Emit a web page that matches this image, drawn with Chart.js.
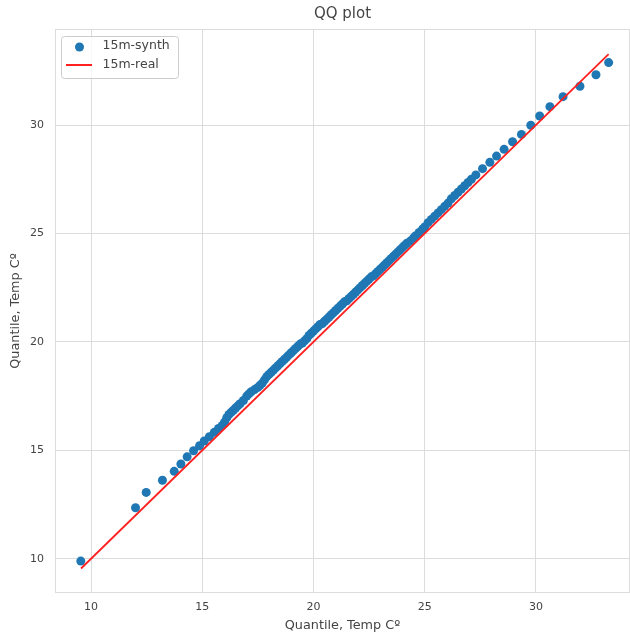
<!DOCTYPE html>
<html>
<head>
<meta charset="utf-8">
<script src="https://cdn.jsdelivr.net/npm/chart.js@4"></script>
<style>
  html, body { margin: 0; padding: 0; background: #fff; }
  #wrap { width: 630px; height: 636px; }
</style>
</head>
<body>
<div id="wrap"><canvas id="qqChart" width="630" height="636"></canvas></div>
<script>
// quantiles of the real series (x) and of the synthetic series (y)
const realQ = [
    9.54, 12.0, 12.48, 13.21, 13.74, 14.04, 14.32, 14.61, 14.88, 15.09, 15.32, 15.54, 15.73,
    15.9, 16.0, 16.1, 16.2, 16.3, 16.4, 16.5, 16.6, 16.7, 16.85, 17.0, 17.1, 17.2, 17.35,
    17.5, 17.6, 17.7, 17.8, 17.9, 18.0, 18.1, 18.2, 18.3, 18.4, 18.5, 18.6, 18.7, 18.8,
    18.9, 19.0, 19.1, 19.2, 19.3, 19.4, 19.5, 19.6, 19.7, 19.8, 19.9, 20.0, 20.1, 20.2,
    20.3, 20.4, 20.5, 20.6, 20.7, 20.8, 20.9, 21.0, 21.1, 21.2, 21.3, 21.4, 21.5, 21.6,
    21.7, 21.8, 21.9, 22.0, 22.1, 22.2, 22.3, 22.4, 22.5, 22.6, 22.7, 22.8, 22.9, 23.0,
    23.1, 23.2, 23.3, 23.4, 23.5, 23.6, 23.7, 23.8, 23.9, 24.0, 24.1, 24.2, 24.35, 24.5,
    24.6, 24.75, 24.9, 25.0, 25.15, 25.3, 25.45, 25.6, 25.75, 25.9, 26.05, 26.2, 26.35,
    26.5, 26.65, 26.8, 26.95, 27.1, 27.3, 27.6, 27.93, 28.23, 28.57, 28.95, 29.35, 29.77,
    30.17, 30.63, 31.22, 31.98, 32.7, 33.27
];
const synthQ = [
    9.89, 12.35, 13.06, 13.62, 14.03, 14.37, 14.7, 14.98, 15.21, 15.43, 15.63, 15.83, 16.01,
    16.15, 16.3, 16.5, 16.65, 16.75, 16.85, 16.95, 17.05, 17.15, 17.3, 17.5, 17.6, 17.7, 17.8,
    17.9, 18.0, 18.1, 18.25, 18.4, 18.5, 18.6, 18.7, 18.8, 18.9, 19.0, 19.1, 19.2, 19.3,
    19.4, 19.5, 19.6, 19.7, 19.8, 19.9, 19.95, 20.05, 20.15, 20.3, 20.4, 20.5, 20.6, 20.7,
    20.8, 20.85, 20.95, 21.05, 21.15, 21.25, 21.35, 21.45, 21.55, 21.65, 21.75, 21.85, 21.9, 22.0,
    22.1, 22.2, 22.3, 22.4, 22.5, 22.6, 22.7, 22.8, 22.9, 23.0, 23.05, 23.15, 23.25, 23.35,
    23.45, 23.55, 23.65, 23.75, 23.85, 23.95, 24.05, 24.15, 24.25, 24.35, 24.45, 24.55, 24.65, 24.8,
    24.9, 25.05, 25.2, 25.3, 25.5, 25.65, 25.8, 25.95, 26.1, 26.25, 26.4, 26.6, 26.75,
    26.9, 27.05, 27.2, 27.35, 27.5, 27.7, 27.99, 28.28, 28.57, 28.88, 29.23, 29.57, 29.99,
    30.42, 30.85, 31.31, 31.79, 32.32, 32.88
];
// reference line y = x
const lineX = [9.55, 33.27];
const lineY = [9.55, 33.27];

const xTicks = [10, 15, 20, 25, 30];
const yTicks = [10, 15, 20, 25, 30];

const textColor = "#444444";
const gridColor = "#dcdcdc";
const font = "'DejaVu Sans', sans-serif";

// frame around the plot area + legend box
const framePlugin = {
    id: "frame",
    beforeDatasetsDraw(chart) {
        const { ctx, chartArea: a } = chart;
        ctx.save();
        ctx.strokeStyle = gridColor;
        ctx.lineWidth = 1;
        ctx.strokeRect(a.left + 0.5, a.top + 0.5, a.right - a.left - 1, a.bottom - a.top - 1);
        ctx.restore();
    },
    afterDraw(chart) {
        const { ctx, chartArea: a } = chart;
        const ds = chart.data.datasets;
        const x0 = a.left + 6, y0 = a.top + 7, w = 117, h = 42;
        ctx.save();
        ctx.fillStyle = "rgba(255,255,255,0.8)";
        ctx.strokeStyle = "#cccccc";
        ctx.lineWidth = 1;
        ctx.beginPath();
        ctx.roundRect(x0 + 0.5, y0 + 0.5, w, h, 3);
        ctx.fill();
        ctx.stroke();

        ctx.fillStyle = ds[1].backgroundColor;
        ctx.beginPath();
        ctx.arc(x0 + 18.5, y0 + 11, 4.5, 0, Math.PI * 2);
        ctx.fill();

        ctx.strokeStyle = ds[0].borderColor;
        ctx.lineWidth = 2;
        ctx.beginPath();
        ctx.moveTo(x0 + 5, y0 + 29);
        ctx.lineTo(x0 + 31, y0 + 29);
        ctx.stroke();

        ctx.fillStyle = textColor;
        ctx.font = "12.5px " + font;
        ctx.textBaseline = "middle";
        ctx.fillText(ds[1].label, x0 + 41.5, y0 + 10);
        ctx.fillText(ds[0].label, x0 + 41.5, y0 + 28.5);
        ctx.restore();
    }
};

new Chart(document.getElementById("qqChart"), {
    type: "scatter",
    data: {
        datasets: [
            {
                type: "line",
                label: "15m-real",
                data: lineX.map((x, i) => ({ x: x, y: lineY[i] })),
                borderColor: "#ff2020",
                borderWidth: 1.8,
                pointRadius: 0,
                fill: false,
                order: 0,
            },
            {
                label: "15m-synth",
                data: realQ.map((x, i) => ({ x: x, y: synthQ[i] })),
                backgroundColor: "#1f77b4",
                borderWidth: 0,
                pointRadius: 4.5,
                order: 1,
            },
        ],
    },
    options: {
        responsive: false,
        animation: false,
        layout: { autoPadding: false, padding: 0 },
        plugins: {
            legend: { display: false },
            tooltip: { enabled: false },
            title: {
                display: true,
                fullSize: false,
                text: "QQ plot",
                color: textColor,
                font: { family: font, size: 15, weight: "normal" },
                padding: { top: 5, bottom: 6 },
            },
        },
        scales: {
            x: {
                type: "linear",
                min: 8.38,
                max: 34.23,
                afterFit(scale) {
                    scale.height = 43;
                    scale.paddingLeft = 0;
                    scale.paddingRight = 0;
                },
                afterBuildTicks(scale) { scale.ticks = xTicks.map(v => ({ value: v })); },
                ticks: {
                    color: textColor,
                    font: { family: font, size: 11 },
                    padding: 8,
                    includeBounds: false,
                },
                grid: { color: gridColor, lineWidth: 1, drawTicks: false },
                border: { display: false },
                title: {
                    display: true,
                    text: "Quantile, Temp Cº",
                    color: textColor,
                    font: { family: font, size: 12.8 },
                    padding: { top: 0, bottom: 3 },
                },
            },
            y: {
                type: "linear",
                min: 8.42,
                max: 34.43,
                afterFit(scale) {
                    scale.width = 55;
                    scale.paddingTop = 0;
                    scale.paddingBottom = 0;
                },
                afterBuildTicks(scale) { scale.ticks = yTicks.map(v => ({ value: v })); },
                ticks: {
                    color: textColor,
                    font: { family: font, size: 11 },
                    padding: 11,
                    includeBounds: false,
                },
                grid: { color: gridColor, lineWidth: 1, drawTicks: false },
                border: { display: false },
                title: {
                    display: true,
                    text: "Quantile, Temp Cº",
                    color: textColor,
                    font: { family: font, size: 12.8 },
                    padding: { top: 7.5, bottom: 0 },
                },
            },
        },
    },
    plugins: [framePlugin],
});
</script>
</body>
</html>
